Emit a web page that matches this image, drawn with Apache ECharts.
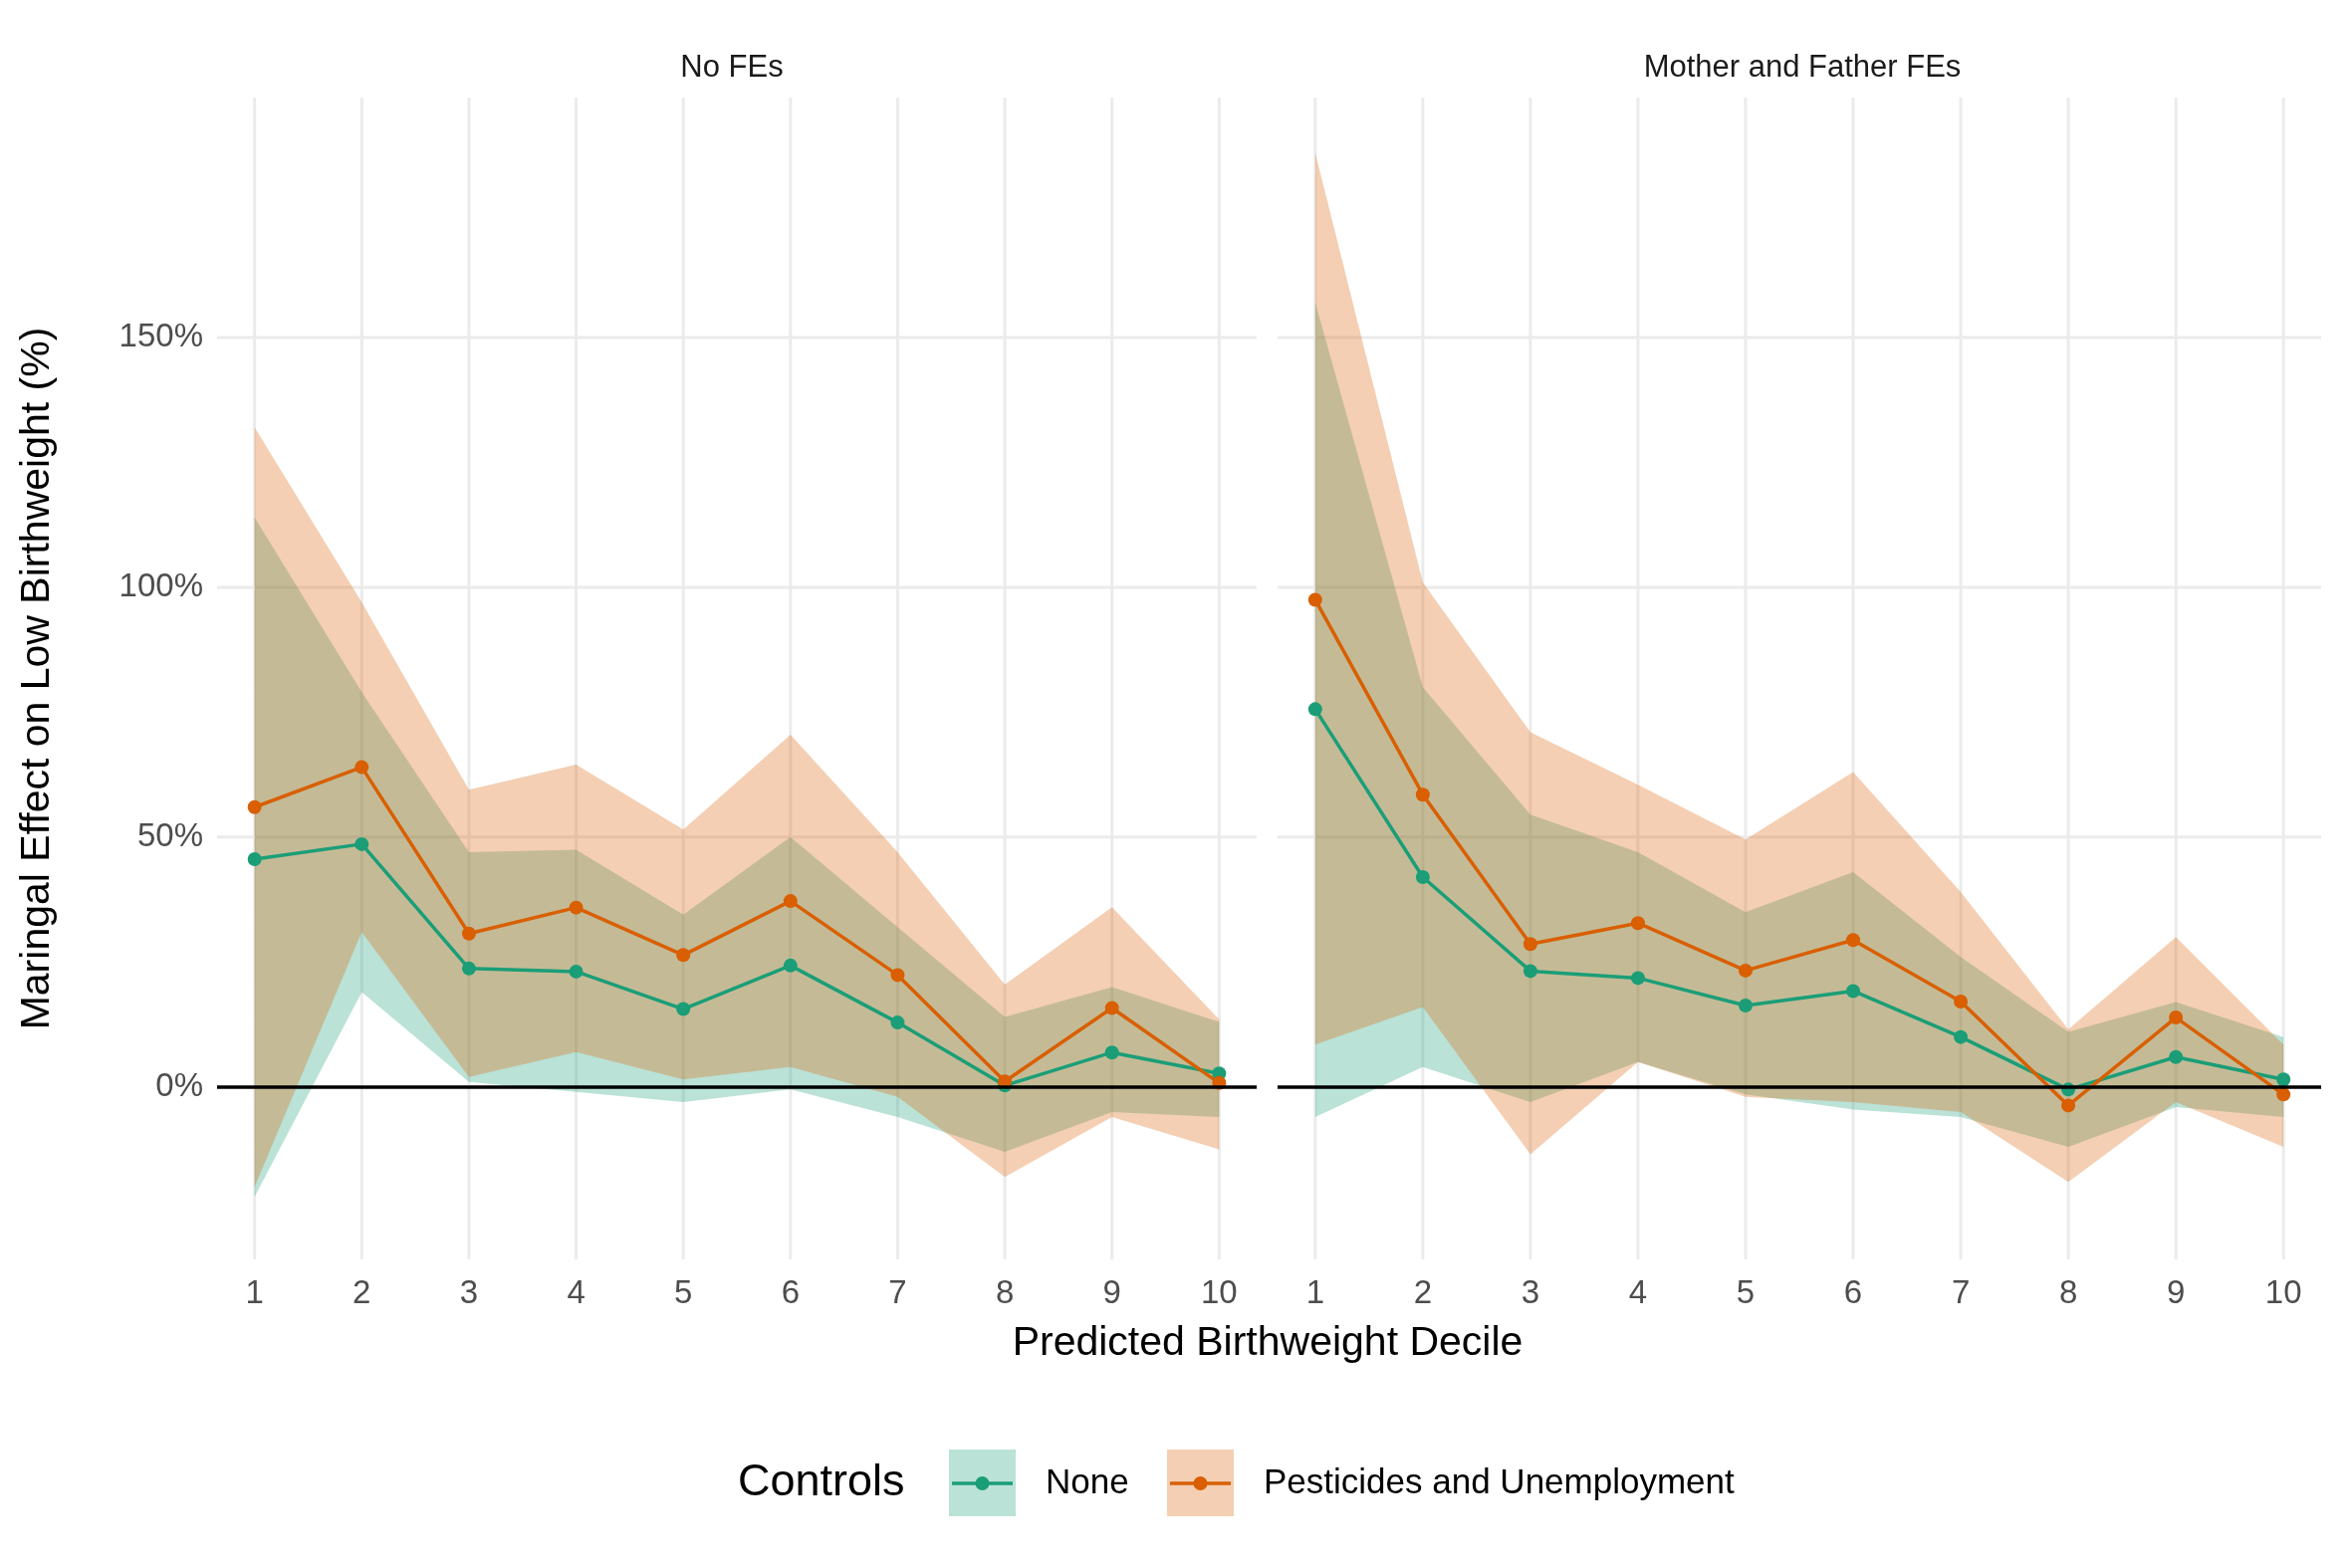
<!DOCTYPE html>
<html><head><meta charset="utf-8">
<script src="https://cdn.jsdelivr.net/npm/echarts@6/dist/echarts.min.js"></script>
<style>html,body{margin:0;background:#fff}#c{width:2362px;height:1575px}</style>
</head><body><div id="c"></div>
<script>
var deciles = [1, 2, 3, 4, 5, 6, 7, 8, 9, 10];
var yTicks = [0, 50, 100, 150];
var panels = ['No FEs', 'Mother and Father FEs'];

// No FEs
var noneEst0 = [45.6, 48.6, 23.7, 23.1, 15.6, 24.3, 12.9, 0.3, 6.9, 2.7];
var noneHi0 = [114, 79, 47, 47.5, 34.5, 50, 32, 14, 20, 13];
var noneLo0 = [-22, 19, 1, -1, -3, -0.5, -6, -13, -5, -6];
var pestEst0 = [56, 64, 30.7, 35.9, 26.4, 37.2, 22.4, 1.1, 15.8, 0.8];
var pestHi0 = [132, 97, 59.5, 64.5, 51.5, 70.5, 47, 20.5, 36, 13.5];
var pestLo0 = [-20, 31, 2, 7, 1.5, 4, -2, -18, -6, -12.5];
// Mother and Father FEs
var noneEst1 = [75.6, 42, 23.2, 21.8, 16.3, 19.2, 10, -0.5, 6, 1.5];
var noneHi1 = [157, 80, 54.5, 47, 35, 43, 26, 11, 17, 10];
var noneLo1 = [-6, 4, -3, 5, -1.5, -4.5, -6, -12, -4, -6];
var pestEst1 = [97.5, 58.5, 28.6, 32.8, 23.3, 29.4, 17.1, -3.7, 13.9, -1.5];
var pestHi1 = [187, 101, 71, 60.5, 49.5, 63, 39, 11.5, 30, 8.5];
var pestLo1 = [8.5, 16, -13.5, 5, -2, -3, -5, -19, -3, -12];

var GREEN = '#1b9e77', ORANGE = '#d95f02';
var fontF = 'Liberation Sans, Arial, sans-serif';
var chart = echarts.init(document.getElementById('c'));

var grids = [
  {left: 218, width: 1044, top: 98, height: 1167},
  {left: 1283, width: 1048, top: 98, height: 1167}
];
var xAxes = [], yAxes = [], series = [];
function ribbon(idx, lo, hi, color) {
  return {
    type: 'custom', xAxisIndex: idx, yAxisIndex: idx, z: 2,
    data: deciles.map(function (d, i) { return [d, lo[i], hi[i]]; }),
    renderItem: function (params, api) {
      if (params.dataIndex !== 0) return null;
      var pts = [];
      for (var i = 0; i < deciles.length; i++) pts.push(api.coord([deciles[i], hi[i]]));
      for (var j = deciles.length - 1; j >= 0; j--) pts.push(api.coord([deciles[j], lo[j]]));
      return {type: 'polygon', shape: {points: pts}, style: {fill: color, opacity: 0.3}};
    }
  };
}
function gridLines(idx) {
  // vertical lines at each decile, horizontal at each y tick (0 drawn black)
  return {
    type: 'custom', xAxisIndex: idx, yAxisIndex: idx, z: 1, silent: true,
    data: [0],
    renderItem: function (params, api) {
      var ch = [];
      var x0 = api.coord([0.65, 0]), x1 = api.coord([10.35, 0]);
      var yTop = api.coord([1, 198])[1], yBot = api.coord([1, -34.5])[1];
      deciles.forEach(function (d) {
        var x = api.coord([d, 0])[0];
        ch.push({type: 'line', shape: {x1: x, y1: yTop, x2: x, y2: yBot}, style: {stroke: '#ebebeb', lineWidth: 3}});
      });
      yTicks.forEach(function (t) {
        if (t === 0) return;
        var y = api.coord([1, t])[1];
        ch.push({type: 'line', shape: {x1: x0[0], y1: y, x2: x1[0], y2: y}, style: {stroke: '#ebebeb', lineWidth: 3}});
      });
      return {type: 'group', children: ch};
    }
  };
}
function line(idx, est, color, name) {
  return {
    type: 'line', name: name, xAxisIndex: idx, yAxisIndex: idx, z: 4,
    data: deciles.map(function (d, i) { return [d, est[i]]; }),
    symbol: 'circle', symbolSize: 14, lineStyle: {color: color, width: 3.5},
    itemStyle: {color: color}, silent: true
  };
}
for (var p = 0; p < 2; p++) {
  xAxes.push({
    type: 'value', gridIndex: p, min: 0.65, max: 10.35,
    axisLine: {show: false}, axisTick: {show: false}, splitLine: {show: false},
    axisLabel: {customValues: deciles, color: '#4d4d4d', fontSize: 33, fontFamily: fontF, margin: 18}
  });
  yAxes.push({
    type: 'value', gridIndex: p, min: -34.5, max: 198,
    axisLine: {show: false}, axisTick: {show: false}, splitLine: {show: false},
    axisLabel: {show: p === 0, customValues: yTicks, formatter: '{value}%', color: '#4d4d4d', fontSize: 33, fontFamily: fontF, margin: 14},
    name: p === 0 ? 'Maringal Effect on Low Birthweight (%)' : '', nameLocation: 'middle', nameGap: 160,
    nameTextStyle: {fontSize: 41, color: '#000', fontFamily: fontF}
  });
  var E = p === 0 ? [noneEst0, noneHi0, noneLo0, pestEst0, pestHi0, pestLo0] : [noneEst1, noneHi1, noneLo1, pestEst1, pestHi1, pestLo1];
  series.push(gridLines(p));
  series.push(ribbon(p, E[2], E[1], GREEN));
  series.push(ribbon(p, E[5], E[4], ORANGE));
  series.push({
    type: 'line', xAxisIndex: p, yAxisIndex: p, data: [], silent: true, z: 3,
    markLine: {silent: true, symbol: 'none', label: {show: false},
      lineStyle: {color: '#000', width: 3.5, type: 'solid'}, data: [{yAxis: 0}]}
  });
  series.push(line(p, E[0], GREEN, 'None'));
  series.push(line(p, E[3], ORANGE, 'Pesticides and Unemployment'));
}

var graphic = [
  {type: 'text', x: 735, y: 68, style: {text: panels[0], font: '31px ' + fontF, fill: '#1a1a1a', align: 'center', verticalAlign: 'middle'}},
  {type: 'text', x: 1810, y: 68, style: {text: panels[1], font: '31px ' + fontF, fill: '#1a1a1a', align: 'center', verticalAlign: 'middle'}},
  {type: 'text', x: 1273, y: 1350, style: {text: 'Predicted Birthweight Decile', font: '41px ' + fontF, fill: '#000', align: 'center', verticalAlign: 'middle'}},
  {type: 'text', x: 741, y: 1490, style: {text: 'Controls', font: '45px ' + fontF, fill: '#000', verticalAlign: 'middle'}}
];
var keys = [[953, GREEN, 'None'], [1172, ORANGE, 'Pesticides and Unemployment']];
keys.forEach(function (k) {
  graphic.push({type: 'rect', shape: {x: k[0], y: 1456, width: 67, height: 67}, style: {fill: k[1], opacity: 0.3}});
  graphic.push({type: 'line', shape: {x1: k[0] + 3, y1: 1490, x2: k[0] + 64, y2: 1490}, style: {stroke: k[1], lineWidth: 3.5}});
  graphic.push({type: 'circle', shape: {cx: k[0] + 33.5, cy: 1490, r: 7}, style: {fill: k[1]}});
  graphic.push({type: 'text', x: k[0] + 97, y: 1490, style: {text: k[2], font: '35px ' + fontF, fill: '#000', verticalAlign: 'middle'}});
});

chart.setOption({
  animation: false,
  backgroundColor: '#fff',
  grid: grids, xAxis: xAxes, yAxis: yAxes, series: series,
  graphic: graphic
});
</script></body></html>
